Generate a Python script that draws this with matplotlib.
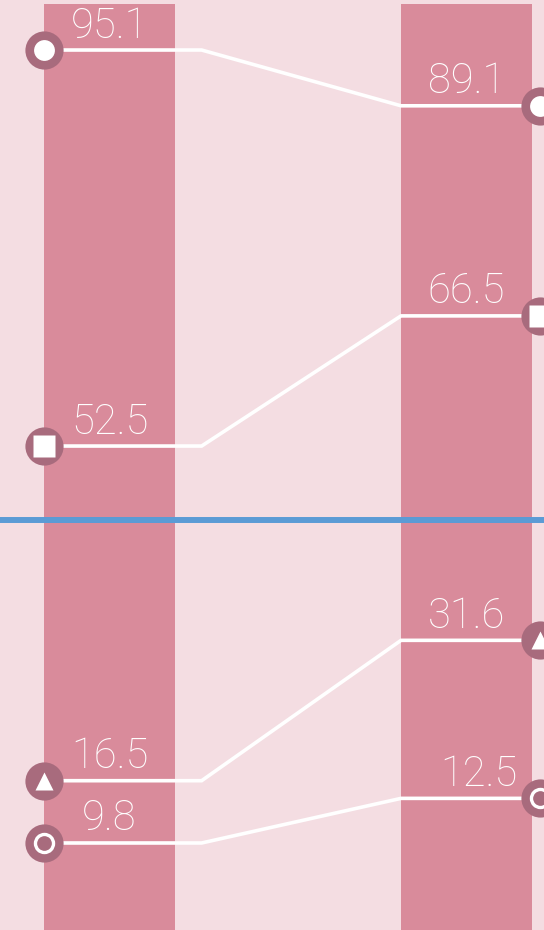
import matplotlib
matplotlib.use("Agg")
from matplotlib import pyplot as plt

# values
categories = ["left", "right"]
bar_tops = [100, 100]

left_vals = [95.1, 52.5, 16.5, 9.8]
right_vals = [89.1, 66.5, 31.6, 14.6]   # last point sits higher than its label says
left_labels = ["95.1", "52.5", "16.5", "9.8"]
right_labels = ["89.1", "66.5", "31.6", "12.5"]
inner_markers = ["o", "s", "^", "ring"]

break_value = 44.5

BG = "#f4dde2"
BAR = "#d98b9b"
MARK = "#a86b7d"
BLUE = "#5b9bd5"

plt.rcParams['font.family'] = ['Roboto', 'DejaVu Sans']

fig = plt.figure(figsize=(5.44, 9.30), dpi=100)
fig.patch.set_facecolor(BG)
ax = fig.add_axes([0, 0, 1, 1])
ax.set_facecolor(BG)

bar_w = 0.367
xs = list(range(len(categories)))
ax.bar(xs, bar_tops, width=bar_w, color=BAR, zorder=1)

ax.axhline(break_value, color=BLUE, lw=4.3, zorder=2)

x_left = -bar_w / 2
x_right = 1.205
kink_left = 0.258
kink_right = 1 - bar_w / 2

for i, (lv, rv, ll, rl, m) in enumerate(zip(left_vals, right_vals, left_labels, right_labels, inner_markers)):
    ax.plot([x_left, kink_left, kink_right, x_right], [lv, lv, rv, rv],
            color="white", lw=2.6, zorder=3, solid_joinstyle="miter")
    for x, v in ((x_left, lv), (x_right, rv)):
        ax.plot(x, v, "o", ms=27.5, color=MARK, mec="none", zorder=4, clip_on=False)
        if m == "ring":
            ax.plot(x, v, "o", ms=13, mfc="none", mec="white", mew=2.4, zorder=5)
        elif m == "o":
            ax.plot(x, v, "o", ms=15, color="white", mec="none", zorder=5)
        elif m == "s":
            ax.plot(x, v, "s", ms=15.5, color="white", mec="none", zorder=5)
        else:
            ax.plot(x, v, "^", ms=13.5, color="white", mec="none", zorder=5)
    # the last right label sits a little right of the bar centre
    dx_right = 9 if i == len(right_labels) - 1 else 0
    for x, v, t, dx in ((0, lv, ll, 0), (1, rv, rl, dx_right)):
        ax.annotate(t, (x, v), xytext=(dx, 9), textcoords="offset points",
                    ha="center", va="baseline", color="white", fontsize=30,
                    fontweight="light", zorder=6)

ax.set_xlim(-0.3067, 1.217)
ax.set_ylim(0.44, 100.48)
ax.axis("off")

fig.savefig("out.png", dpi=100, facecolor=BG)
